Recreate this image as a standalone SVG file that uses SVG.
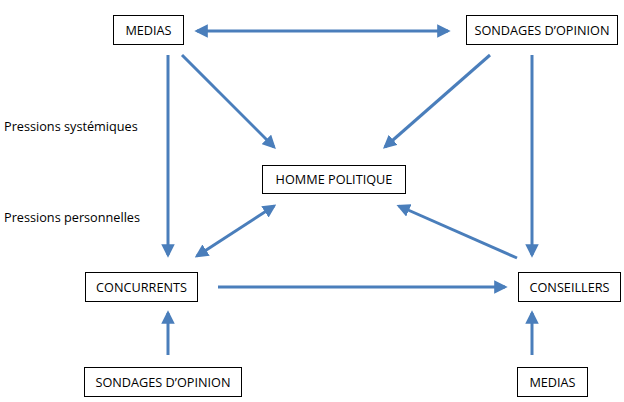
<svg xmlns="http://www.w3.org/2000/svg" width="624" height="402" viewBox="0 0 624 402">
<defs>
<marker id="ah" viewBox="0 0 10 10" refX="8" refY="5" markerWidth="4.5" markerHeight="4.5" orient="auto-start-reverse" markerUnits="strokeWidth">
<path d="M0,0 L10,5 L0,10 Z" fill="#4a7ebb"/>
</marker>
<style>
.box{fill:#fff;stroke:#000;stroke-width:1}
.t{font-family:"Open Sans","Liberation Sans",sans-serif;font-size:12.7px;fill:#000}
.c{stroke:#4a7ebb;stroke-width:3;fill:none}
.e{marker-end:url(#ah)}
.b{marker-start:url(#ah);marker-end:url(#ah)}
</style>
</defs>
<rect width="624" height="402" fill="#fff"/>
<g id="medias-top"><rect class="box" x="113.5" y="15.5" width="70" height="29"/><text class="t" x="148.5" y="34.5" text-anchor="middle">MEDIAS</text></g>
<g id="sondages-top"><rect class="box" x="466.5" y="15.5" width="151" height="29"/><text class="t" x="542" y="34.5" text-anchor="middle">SONDAGES D’OPINION</text></g>
<g id="homme"><rect class="box" x="262.5" y="165.5" width="143" height="28"/><text class="t" x="334" y="184" text-anchor="middle">HOMME POLITIQUE</text></g>
<g id="concurrents"><rect class="box" x="85.5" y="272.5" width="112" height="29"/><text class="t" x="141.5" y="291.5" text-anchor="middle">CONCURRENTS</text></g>
<g id="conseillers"><rect class="box" x="518.5" y="272.5" width="102" height="29"/><text class="t" x="569.5" y="291.5" text-anchor="middle">CONSEILLERS</text></g>
<g id="sondages-bottom"><rect class="box" x="84.5" y="367.5" width="157" height="29"/><text class="t" x="163" y="386.5" text-anchor="middle">SONDAGES D’OPINION</text></g>
<g id="medias-bottom"><rect class="box" x="517.5" y="367.5" width="70" height="29"/><text class="t" x="552.5" y="386.5" text-anchor="middle">MEDIAS</text></g>
<g id="labels">
<text class="t" x="4" y="131">Pressions systémiques</text>
<text class="t" x="4" y="222">Pressions personnelles</text>
</g>
<g id="connectors">
<line class="c b" x1="197" y1="31" x2="448" y2="31"/>
<line class="c e" x1="168" y1="55" x2="168" y2="255"/>
<line class="c e" x1="182" y1="55" x2="274" y2="147"/>
<line class="c e" x1="490" y1="55" x2="385" y2="147"/>
<line class="c e" x1="532" y1="55" x2="532" y2="255"/>
<line class="c b" x1="274" y1="206" x2="197" y2="256"/>
<line class="c e" x1="517" y1="258" x2="399" y2="206"/>
<line class="c e" x1="218" y1="287" x2="505" y2="287"/>
<line class="c e" x1="168" y1="355" x2="168" y2="313"/>
<line class="c e" x1="532" y1="355" x2="532" y2="313"/>
</g>
</svg>
